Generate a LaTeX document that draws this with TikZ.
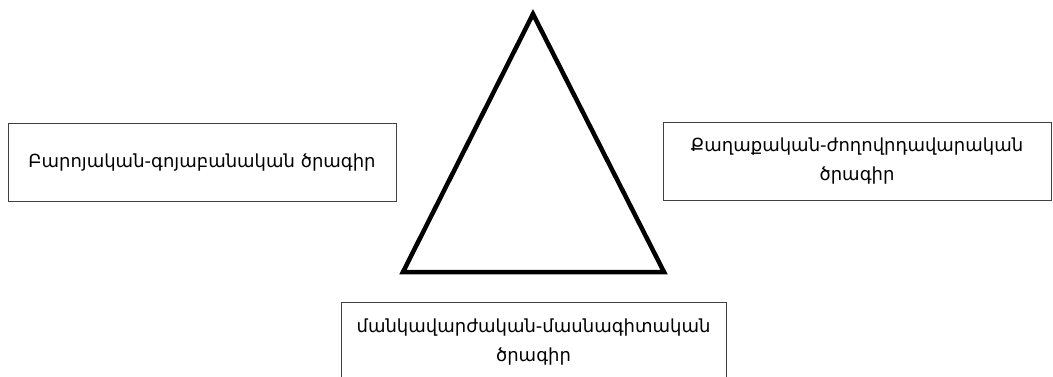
\documentclass[tikz,border=0pt]{standalone}
\usepackage{fontspec}
\setmainfont{DejaVu Sans}

\begin{document}
\begin{tikzpicture}[x=1pt,y=-1pt,
  prog/.style={draw=black!75, line width=0.9pt, minimum width=388pt, minimum height=78pt, align=center, font=\fontsize{18}{29}\selectfont}]
\useasboundingbox (0,0) rectangle (1053,376);
\node[prog] (moral) at (202,162.5) {Բարոյական-գոյաբանական ծրագիր};
\node[prog] (civic) at (857,161) {Քաղաքական-ժողովրդավարական\\ծրագիր};
\node[prog, minimum width=385pt, minimum height=80pt] (pedag) at (533.5,342) {մանկավարժական-մասնագիտական\\ծրագիր};
\coordinate (apex) at (533,14);
\coordinate (left) at (403,272);
\coordinate (right) at (664,272);
\draw[line width=4.5pt, line join=miter] (apex) -- (left) -- (right) -- cycle;
\end{tikzpicture}
\end{document}
